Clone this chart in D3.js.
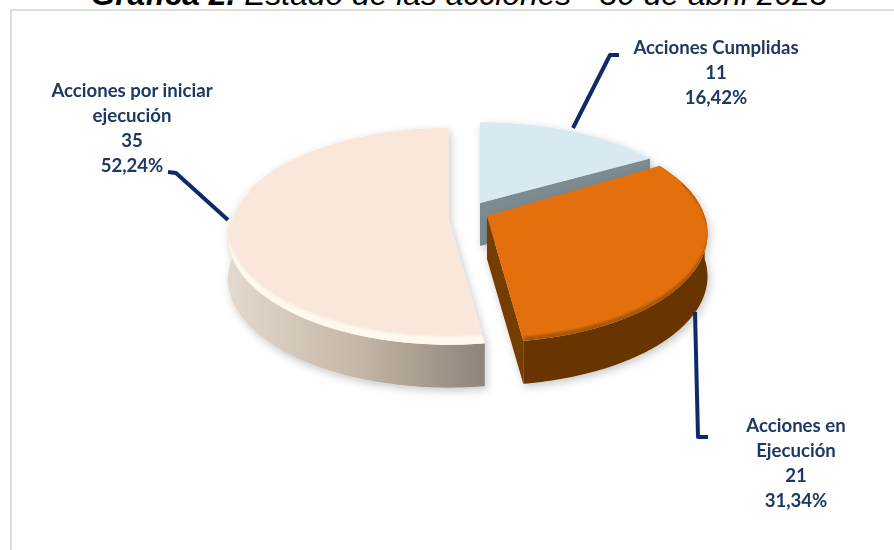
<!DOCTYPE html>
<html>
<head>
<meta charset="utf-8">
<script src="https://cdn.jsdelivr.net/npm/d3@7"></script>
<style>
    body { margin: 0; background: #fff; overflow: hidden; }
    text { font-family: Lato, "Open Sans", sans-serif; }
</style>
</head>
<body>
<div id="chart"></div>
<script>
// Chart values, clockwise from the top of the pie.
const categories = ["Acciones Cumplidas", "Acciones en Ejecución", "Acciones por iniciar ejecución"];
const values = [11, 21, 35];
const percentLabels = ["16,42%", "31,34%", "52,24%"];
const labelLines = [["Acciones Cumplidas"], ["Acciones en", "Ejecución"], ["Acciones por iniciar", "ejecución"]];
const titleBold = "Gráfica 2.";
const titleRest = " Estado de las acciones - 30 de abril 2023";

// Make dimensions for the graph.
const width = 894, height = 550;
const radiusX = 221, radiusY = 104, perspective = 0.16, depth = 43;

// Where each slice's tip sits once pulled out, and how much it shrinks going back.
const sliceLayout = [
    { x: 480, y: 203, sx: 0.97, sy: 0.9 },
    { x: 487, y: 216, sx: 0.985, sy: 1.02 },
    { x: 448.5, y: 219, sx: 0.985, sy: 1.015 }
];
const labelLayout = [
    { x: 716, y: 54, step: 25 },
    { x: 796, y: 432, step: 25 },
    { x: 132, y: 97, step: 25 }
];
const leaders = [
    [[573, 128], [610, 55], [619, 55]],
    [[695, 312], [698, 437], [708, 437]],
    [[168, 172], [176, 173], [228, 220]]
];

const svg = d3.select("#chart").append("svg").attr("width", width).attr("height", height);
const defs = svg.append("defs");

// Soft shadow under the pie and blur for the bevels.
const shadow = defs.append("filter").attr("id", "shadow")
    .attr("x", "-20%").attr("y", "-20%").attr("width", "140%").attr("height", "140%");
shadow.append("feDropShadow").attr("dx", 2).attr("dy", 3).attr("stdDeviation", 4)
    .attr("flood-color", "#000").attr("flood-opacity", 0.22);
defs.append("filter").attr("id", "soft").append("feGaussianBlur").attr("stdDeviation", 1.3);
defs.append("filter").attr("id", "textSoft").append("feGaussianBlur").attr("stdDeviation", 0.35);

const wallGradient = defs.append("linearGradient").attr("id", "wall")
    .attr("gradientUnits", "userSpaceOnUse").attr("x1", 229).attr("x2", 481).attr("y1", 0).attr("y2", 0);
wallGradient.append("stop").attr("offset", "0%").attr("stop-color", "#e3d9cd");
wallGradient.append("stop").attr("offset", "50%").attr("stop-color", "#c6b8a9");
wallGradient.append("stop").attr("offset", "100%").attr("stop-color", "#8f857b");

// Frame left over from the original slide.
svg.append("path")
    .attr("d", "M11,550V10H894")
    .attr("fill", "none")
    .attr("stroke", "#dedede")
    .attr("stroke-width", 2);

// Title, cut by the top of the picture as in the original.
const title = svg.append("text")
    .attr("x", 459).attr("y", 5)
    .attr("text-anchor", "middle")
    .style("font-family", "'Liberation Sans', Arial, sans-serif")
    .style("font-size", "31.8px")
    .style("font-style", "italic");
title.append("tspan").attr("font-weight", "bold").text(titleBold);
title.append("tspan").text(titleRest);

// Angles come from d3.pie, the flattening is done here.
const slices = d3.pie().sort(null).value(d => d)(values);

function project(i, angle, drop = 0, up = 0) {
    const v = -Math.cos(angle);
    const f = 1 / (1 - perspective * v);
    const s = sliceLayout[i];
    return [
        s.x + radiusX * s.sx * Math.sin(angle) * f,
        s.y + radiusY * s.sy * v * f + drop - up
    ];
}

function arcPoints(i, a0, a1, drop = 0, up = 0) {
    return d3.range(0, 81).map(k => project(i, a0 + (a1 - a0) * k / 80, drop, up));
}

const line = d3.line();
const pieGroup = svg.append("g");

// Top face of one slice.
function topFace(i) {
    const s = sliceLayout[i];
    return line([[s.x, s.y], ...arcPoints(i, slices[i].startAngle, slices[i].endAngle)]) + "Z";
}

// Bevels stay inside the top face.
slices.forEach((d, i) => {
    defs.append("clipPath").attr("id", "face" + i).append("path").attr("d", topFace(i));
});

// Draw the slices back to front.
function drawWall(group, i, a0, a1, fill) {
    group.append("path")
        .attr("d", line([...arcPoints(i, a0, a1), ...arcPoints(i, a1, a0, depth)]) + "Z")
        .attr("fill", fill);
}

function drawCut(group, i, angle, fill) {
    const s = sliceLayout[i];
    const tip = project(i, angle);
    group.append("path")
        .attr("d", line([[s.x, s.y], tip, [tip[0], tip[1] + depth], [s.x, s.y + depth]]) + "Z")
        .attr("fill", fill);
}

// Crescent along the front edge, thin at the sides and thick at the front.
function drawBevel(group, i, a0, a1, fill, up) {
    group.append("g")
        .attr("clip-path", "url(#face" + i + ")")
        .append("path")
        .attr("d", line([...arcPoints(i, a0, a1, 2), ...arcPoints(i, a1, a0, 0, up)]) + "Z")
        .attr("fill", fill)
        .attr("filter", "url(#soft)");
}

// Por iniciar.
const beige = pieGroup.append("g").attr("filter", "url(#shadow)");
drawWall(beige, 2, slices[2].startAngle, 3 * Math.PI / 2 + 0.05, "url(#wall)");
beige.append("path").attr("d", topFace(2)).attr("fill", "#f8e7da");
drawBevel(beige, 2, slices[2].startAngle, 3 * Math.PI / 2 + 0.3, "#fff9ee", 8);

// Cumplidas.
const blue = pieGroup.append("g").attr("filter", "url(#shadow)");
drawCut(blue, 0, slices[0].endAngle, "#7b8b90");
blue.append("path").attr("d", topFace(0)).attr("fill", "#d8e9f0");

// En ejecución.
const orange = pieGroup.append("g").attr("filter", "url(#shadow)");
drawCut(orange, 1, slices[1].endAngle, "#753c03");
drawWall(orange, 1, Math.PI / 2, slices[1].endAngle, "#683402");
orange.append("path").attr("d", topFace(1)).attr("fill", "#e3700c");
drawBevel(orange, 1, slices[1].startAngle + 0.2, slices[1].endAngle, "#a85608", 4);

// Leader lines.
svg.append("g").selectAll("path")
    .data(leaders)
    .join("path")
    .attr("d", d => line(d))
    .attr("fill", "none")
    .attr("stroke", "#0c2b68")
    .attr("stroke-width", 4)
    .attr("stroke-linejoin", "round");

// Data labels.
const labels = svg.append("g")
    .attr("fill", "#1f3864")
    .attr("filter", "url(#textSoft)")
    .style("font-size", "18.6px")
    .style("font-weight", "bold")
    .attr("text-anchor", "middle");

categories.forEach((category, i) => {
    const rows = [...labelLines[i], String(values[i]), percentLabels[i]];
    const pos = labelLayout[i];
    labels.append("text")
        .attr("data-category", category)
        .selectAll("tspan")
        .data(rows)
        .join("tspan")
        .attr("x", pos.x)
        .attr("y", (d, k) => pos.y + k * pos.step)
        .text(d => d);
});
</script>
</body>
</html>
